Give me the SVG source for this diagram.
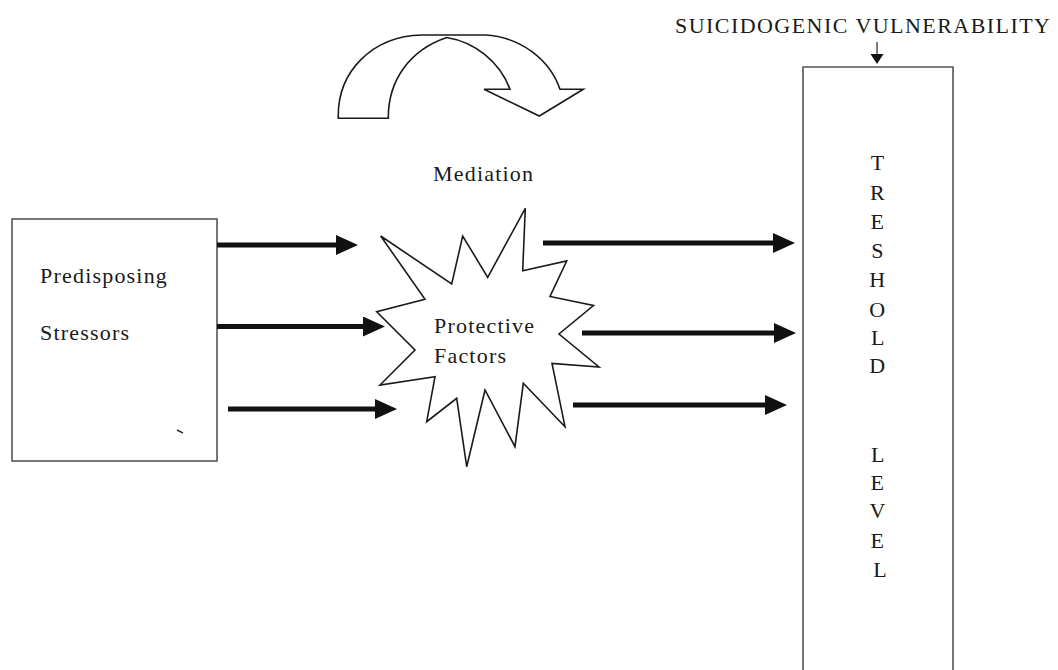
<svg xmlns="http://www.w3.org/2000/svg" width="1058" height="670" viewBox="0 0 1058 670">
  <style>
    .lbl { font-family: "Liberation Serif", "Times New Roman", serif; font-size: 22px; fill: #1a1a1a; letter-spacing: 1.2px; }
    .box { fill: #ffffff; stroke: #555555; stroke-width: 1.6; }
    .shape { fill: #ffffff; stroke: #1a1a1a; stroke-width: 1.6; stroke-linejoin: miter; }
    .flow { stroke: #111111; stroke-width: 5; fill: none; marker-end: url(#head); }
    .pointer { stroke: #222222; stroke-width: 1.2; fill: none; marker-end: url(#small); }
  </style>
  <defs>
    <marker id="head" markerUnits="userSpaceOnUse" markerWidth="24" markerHeight="22" refX="7" refY="10" orient="auto">
      <path d="M0,0 L22,10 L0,20 Z" fill="#111111"/>
    </marker>
    <marker id="small" markerUnits="userSpaceOnUse" markerWidth="14" markerHeight="14" refX="2" refY="6.5" orient="auto">
      <path d="M0,0 L10,6.5 L0,13 Z" fill="#111111"/>
    </marker>
  </defs>

  <rect width="1058" height="670" fill="#ffffff"/>

  <!-- Predisposing stressors box -->
  <g id="stressors">
    <rect class="box" x="12" y="219" width="205" height="242"/>
    <text class="lbl" x="40" y="283">Predisposing</text>
    <text class="lbl" x="40" y="340">Stressors</text>
    <path d="M177,430 L183,433" stroke="#333333" stroke-width="1.5" fill="none"/>
  </g>

  <!-- Curved mediation arrow -->
  <g id="mediation">
    <path class="shape" d="M338.3,118.3 C337,72 372,36 422,35 L485,35 C521,37 550,60 560,89.3 L583.3,89.3 L539.3,116 L484,89.3 L510,89.3 C500,62 475,42 446.7,37.5 C410,50 388,80 388.3,118.3 Z"/>
    <text class="lbl" x="433" y="181">Mediation</text>
  </g>

  <!-- Protective factors starburst -->
  <g id="protective">
    <polygon class="shape" points="380.7,236 451.7,284 462.7,236 487.7,277.3 525.3,208.3 522.7,270.7 566.7,261 550,296.5 593.5,305.5 559,334 599,367 552,363.5 565,426.7 523.3,383.3 515,446.7 485,390 466.7,466.7 456.7,398.3 426.7,421.7 435,376.7 380,385 415,350 376.7,311.7 425,299.3"/>
    <text class="lbl" x="434" y="333">Protective</text>
    <text class="lbl" x="434" y="363">Factors</text>
  </g>

  <!-- Threshold level column -->
  <g id="threshold">
    <path class="box" d="M803,676 L803,67 L953,67 L953,676"/>
    <text class="lbl" text-anchor="middle" style="letter-spacing:0">
      <tspan x="880" y="170">T</tspan>
      <tspan x="880" y="200">R</tspan>
      <tspan x="880" y="229">E</tspan>
      <tspan x="880" y="258">S</tspan>
      <tspan x="880" y="287">H</tspan>
      <tspan x="880" y="317">O</tspan>
      <tspan x="880" y="345">L</tspan>
      <tspan x="880" y="373">D</tspan>
      <tspan x="880" y="462">L</tspan>
      <tspan x="880" y="490">E</tspan>
      <tspan x="880" y="518">V</tspan>
      <tspan x="880" y="548">E</tspan>
      <tspan x="880" y="577">L</tspan>
    </text>
  </g>

  <!-- Vulnerability label -->
  <g id="vulnerability">
    <text class="lbl" x="675" y="33" style="letter-spacing:1.45px">SUICIDOGENIC VULNERABILITY</text>
  </g>

  <!-- Connectors -->
  <g id="connectors">
    <line class="flow" x1="217" y1="245" x2="343" y2="245"/>
    <line class="flow" x1="217" y1="326.5" x2="370" y2="326.5"/>
    <line class="flow" x1="228" y1="409" x2="382" y2="409"/>
    <line class="flow" x1="543" y1="243" x2="780" y2="243"/>
    <line class="flow" x1="582" y1="333" x2="781" y2="333"/>
    <line class="flow" x1="573" y1="405" x2="772" y2="405"/>
    <line class="pointer" x1="877" y1="42" x2="877" y2="56"/>
  </g>
</svg>
